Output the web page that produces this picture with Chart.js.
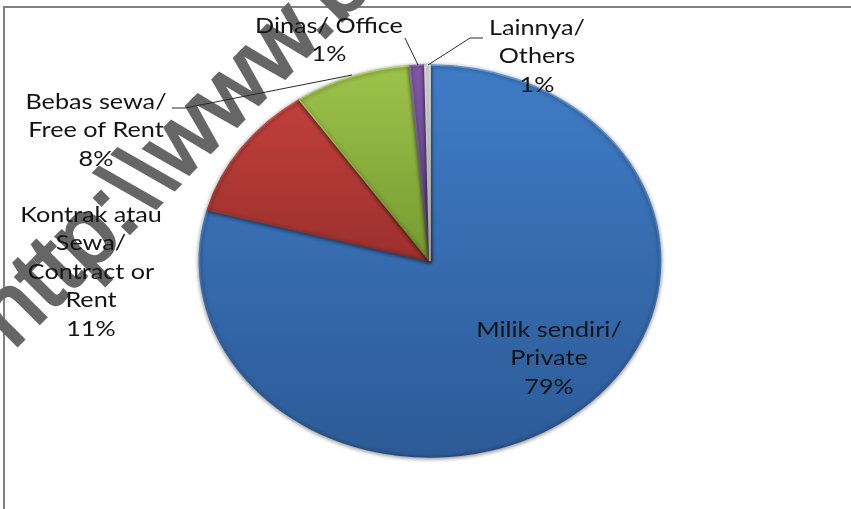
<!DOCTYPE html>
<html>
<head>
<meta charset="utf-8">
<style>
    html, body { margin: 0; padding: 0; background: #fff; }
    canvas { display: block; }
</style>
<script src="https://cdn.jsdelivr.net/npm/chart.js@4.4.4/dist/chart.umd.min.js"></script>
</head>
<body>
<canvas id="pie" width="851" height="509"></canvas>
<script>
// Data
const categories = ['Milik sendiri/ Private', 'Kontrak atau Sewa/ Contract or Rent', 'Bebas sewa/ Free of Rent', 'Dinas/ Office', 'Lainnya/ Others'];
const shares = [79.2, 11.2, 8.2, 1.05, 0.35];   // slice sizes as drawn
const shareLabels = ['79%', '11%', '8%', '1%', '1%'];   // as printed
const labelLines = [
    ['Milik sendiri/', 'Private'],
    ['Kontrak atau', 'Sewa/', 'Contract or', 'Rent'],
    ['Bebas sewa/', 'Free of Rent'],
    ['Dinas/ Office'],
    ['Lainnya/', 'Others']
];
const watermark = 'http:\\\\www.bps.go.id';

// Styles
const topColors = ['#3f7cc6', '#c9433f', '#9dc34b', '#7f58a8', '#f2f2f2'];
const bottomColors = ['#2c5a97', '#9a2f2c', '#76992f', '#5f4183', '#dcdcdc'];
const rimTop = ['#5e95d8', '#d85c58', '#aed05e', '#8a66b4', '#d8d8d8'];
const rimBottom = ['#254c7e', '#822623', '#648328', '#553a76', '#a0a0a0'];
const gradientBottoms = [457, 265, 265, 265, 265];

// Where each label block sits (centre x, first line middle y)
const labelAnchors = [[549, 330], [91, 215], [96, 102], [329, 26], [537, 28]];
const leaders = [
    [[172, 108], [185, 108], [352, 75]],
    [[405, 38], [418, 65]],
    [[483, 38], [470, 38], [428, 65]]
];
const stretchX = 1.176;
const textStretch = 1.2;

function verticalGradient(chart, i, colors1, colors2) {
    const g = chart.ctx.createLinearGradient(0, 65, 0, gradientBottoms[i]);
    g.addColorStop(0, colors1[i]);
    g.addColorStop(1, colors2[i]);
    return g;
}

// Frame and watermark go under the pie, and the pie itself is stretched into an ellipse
const backdropPlugin = {
    id: 'backdrop',
    beforeDatasetsDraw(chart) {
        const ctx = chart.ctx;
        ctx.save();
        ctx.fillStyle = '#808080';
        ctx.fillRect(3, 6, 848, 2);
        ctx.fillRect(3, 6, 2, 503);
        ctx.translate(13, 350);
        ctx.rotate(-Math.PI / 4);
        ctx.font = '94px "Liberation Sans"';
        ctx.fillStyle = '#666666';
        ctx.strokeStyle = '#666666';
        ctx.lineWidth = 3;
        ctx.lineJoin = 'miter';
        ctx.textBaseline = 'alphabetic';
        ctx.fillText(watermark, 0, 0);
        ctx.strokeText(watermark, 0, 0);
        ctx.restore();

        const cx = chart.getDatasetMeta(0).data[0].x;
        ctx.save();
        ctx.translate(cx, 0);
        ctx.scale(stretchX, 1);
        ctx.translate(-cx, 0);
        ctx.shadowColor = 'rgba(0,0,0,0.45)';
        ctx.shadowBlur = 4;
        ctx.shadowOffsetY = 1;
    },
    afterDatasetsDraw(chart) {
        chart.ctx.restore();
    }
};

// Data labels and leader lines on top of everything
const labelPlugin = {
    id: 'pieLabels',
    afterDraw(chart) {
        const ctx = chart.ctx;
        ctx.save();
        ctx.strokeStyle = '#2a2a2a';
        ctx.lineWidth = 1;
        leaders.forEach(pts => {
            ctx.beginPath();
            pts.forEach(([x, y], i) => i ? ctx.lineTo(x, y) : ctx.moveTo(x, y));
            ctx.stroke();
        });
        ctx.font = '21px Lato';
        ctx.fillStyle = '#141414';
        ctx.textAlign = 'center';
        ctx.textBaseline = 'middle';
        categories.forEach((_, i) => {
            const lines = [...labelLines[i], shareLabels[i]];
            lines.forEach((line, j) => {
                ctx.save();
                ctx.translate(labelAnchors[i][0], labelAnchors[i][1] + j * 28.5);
                ctx.scale(textStretch, 1);
                ctx.fillText(line, 0, 0);
                ctx.restore();
            });
        });
        ctx.restore();
    }
};

new Chart(document.getElementById('pie').getContext('2d'), {
    type: 'pie',
    data: {
        labels: categories,
        datasets: [{
            data: shares,
            radius: 196,
            borderWidth: 1.5,
            backgroundColor: c => verticalGradient(c.chart, c.dataIndex, topColors, bottomColors),
            borderColor: c => verticalGradient(c.chart, c.dataIndex, rimTop, rimBottom)
        }]
    },
    options: {
        responsive: false,
        animation: false,
        layout: { padding: { left: 9, top: 13 } },
        plugins: {
            legend: { display: false },
            tooltip: { enabled: false }
        }
    },
    plugins: [backdropPlugin, labelPlugin]
});
</script>
</body>
</html>
